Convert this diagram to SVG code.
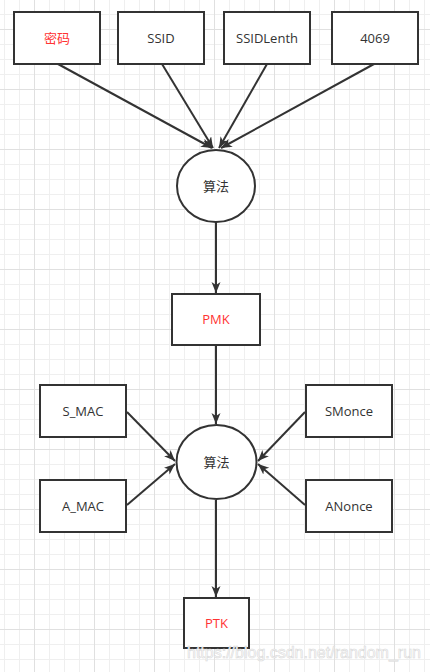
<svg xmlns="http://www.w3.org/2000/svg" width="430" height="672" viewBox="0 0 430 672">
<style>
.box{fill:#fff;stroke:#333;stroke-width:2}
.ell{fill:#fff;stroke:#333;stroke-width:2}
.t{font-family:"Open Sans","Noto Sans CJK SC",sans-serif;font-size:13px;fill:#333;text-anchor:middle}
.red{fill:#ff3333}
.c{stroke:#333;stroke-width:2;fill:none;marker-end:url(#arr)}
.wm{font-family:"Liberation Sans",Arial,sans-serif;font-size:16px;fill:#fff;stroke:#d8d8d8;stroke-width:0.6}
</style>
<defs>
<pattern id="minor" patternUnits="userSpaceOnUse" x="4" y="14" width="15" height="15">
<rect width="15" height="1" fill="#efefef"/><rect width="1" height="15" fill="#efefef"/>
</pattern>
<pattern id="major" patternUnits="userSpaceOnUse" x="34" y="29" width="60" height="60">
<rect width="60" height="1" fill="#e0e0e0"/><rect width="1" height="60" fill="#e0e0e0"/>
</pattern>
<marker id="arr" markerUnits="userSpaceOnUse" markerWidth="12" markerHeight="10" refX="11" refY="4.5" orient="auto">
<path d="M0,0 L11,4.5 L0,9 L3,4.5 z" fill="#333"/>
</marker>
</defs>
<rect width="430" height="672" fill="#fff"/>
<rect width="430" height="672" fill="url(#minor)"/>
<rect width="430" height="672" fill="url(#major)"/>
<g id="connectors">
<line class="c" x1="58" y1="64" x2="212" y2="148"/>
<line class="c" x1="162" y1="64" x2="213" y2="148"/>
<line class="c" x1="267" y1="64" x2="219" y2="148"/>
<line class="c" x1="374" y1="64" x2="221" y2="148"/>
<line class="c" x1="216" y1="222" x2="216" y2="293"/>
<line class="c" x1="216" y1="345" x2="216" y2="424"/>
<line class="c" x1="127" y1="412" x2="175" y2="461"/>
<line class="c" x1="127" y1="505" x2="175" y2="464"/>
<line class="c" x1="305" y1="412" x2="258" y2="461"/>
<line class="c" x1="305" y1="505" x2="258" y2="464"/>
<line class="c" x1="216" y1="500" x2="216" y2="597"/>
</g>
<g id="n-mima"><rect class="box" x="14" y="12" width="86" height="52"/><text class="t red" x="57" y="42.5">密码</text></g>
<g id="n-ssid"><rect class="box" x="118" y="12" width="86" height="52"/><text class="t" x="161" y="42.5">SSID</text></g>
<g id="n-ssidlenth"><rect class="box" x="224" y="12" width="86" height="52"/><text class="t" x="267" y="42.5">SSIDLenth</text></g>
<g id="n-4069"><rect class="box" x="332" y="12" width="86" height="52"/><text class="t" x="375" y="42.5">4069</text></g>
<g id="n-alg1"><ellipse class="ell" cx="216" cy="186" rx="39" ry="36"/><text class="t" x="216" y="190.5">算法</text></g>
<g id="n-pmk"><rect class="box" x="172" y="294" width="88" height="51"/><text class="t red" x="216" y="324">PMK</text></g>
<g id="n-smac"><rect class="box" x="40" y="385" width="86" height="52"/><text class="t" x="83" y="415.5">S_MAC</text></g>
<g id="n-amac"><rect class="box" x="40" y="480" width="86" height="52"/><text class="t" x="83" y="510.5">A_MAC</text></g>
<g id="n-smonce"><rect class="box" x="306" y="385" width="86" height="52"/><text class="t" x="349" y="415.5">SMonce</text></g>
<g id="n-anonce"><rect class="box" x="306" y="480" width="86" height="52"/><text class="t" x="349" y="510.5">ANonce</text></g>
<g id="n-alg2"><ellipse class="ell" cx="216.5" cy="462" rx="40" ry="37"/><text class="t" x="216.5" y="466.5">算法</text></g>
<g id="n-ptk"><rect class="box" x="184" y="598" width="65" height="50"/><text class="t red" x="216.5" y="627.5">PTK</text></g>
<text class="wm" x="187" y="658">https://blog.csdn.net/random_run</text>
</svg>
